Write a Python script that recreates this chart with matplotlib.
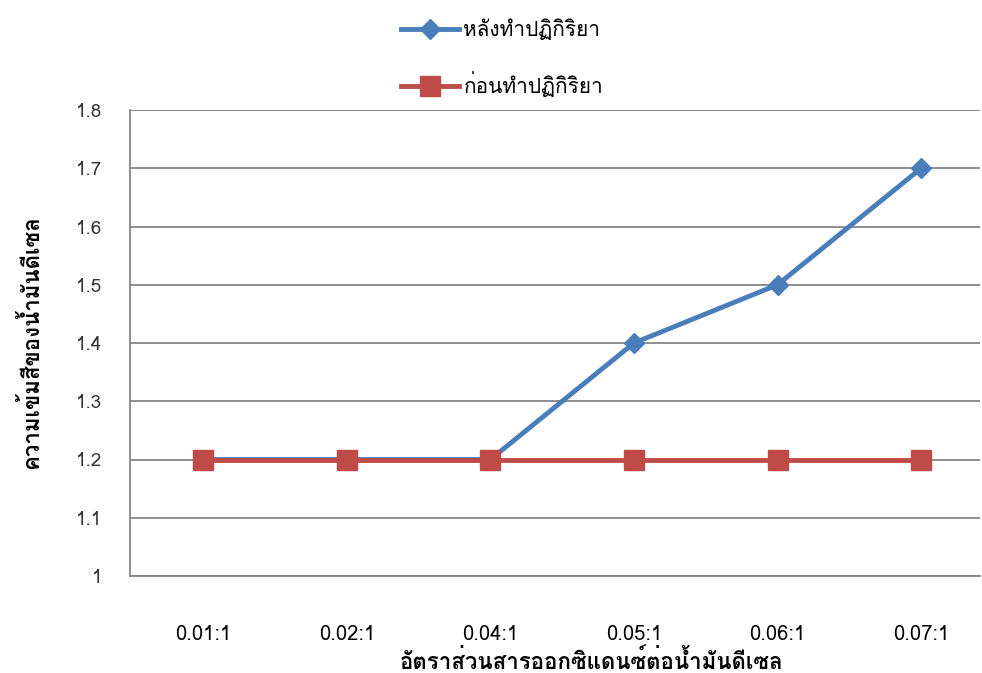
import matplotlib
matplotlib.use("Agg")
from matplotlib import pyplot as plt
from matplotlib import font_manager
from matplotlib.ft2font import FT2Font

categories = ["0.01:1", "0.02:1", "0.04:1", "0.05:1", "0.06:1", "0.07:1"]
after_reaction = [1.2, 1.2, 1.2, 1.4, 1.5, 1.7]
before_reaction = [1.2, 1.2, 1.2, 1.2, 1.2, 1.2]
y_ticks = [1, 1.1, 1.2, 1.3, 1.4, 1.5, 1.6, 1.7, 1.8]
y_tick_labels = ["1", "1.1", "1.2", "1.3", "1.4", "1.5", "1.6", "1.7", "1.8"]


def thai_font():
    # first installed family that has Thai glyphs
    for f in font_manager.fontManager.ttflist:
        try:
            if FT2Font(f.fname).get_char_index(0x0E01):
                return f.name
        except Exception:
            pass
    return "DejaVu Sans"


thai = thai_font()
plt.rcParams["font.family"] = [thai, "DejaVu Sans"]

fig = plt.figure(figsize=(9.82, 6.73), dpi=100)
ax = fig.add_axes([130 / 982, 1 - 576 / 673, 850 / 982, 466 / 673])

x = list(range(len(categories)))
ax.plot(x, after_reaction, color="#4A7EBB", lw=3.5, marker="D", ms=10.5,
        label="หลังทำปฏิกิริยา", zorder=3)
ax.plot(x, before_reaction, color="#BE4B48", lw=3.5, marker="s", ms=14.5,
        label="ก่อนทำปฏิกิริยา", zorder=4)

ax.set_xlim(-0.51, 5.41)
ax.set_ylim(1, 1.8)
ax.set_xticks(x)
ax.set_xticklabels(categories, fontsize=14.5, family=["Liberation Sans Narrow", thai])
ax.set_yticks(y_ticks)
ax.set_yticklabels(y_tick_labels, fontsize=13.5, color="#333333")
ax.tick_params(axis="x", length=0, pad=35)
ax.tick_params(axis="y", length=0, pad=20)
ax.yaxis.grid(True, color="#868686", lw=1.3)
ax.set_axisbelow(True)
for s in ["top", "right"]:
    ax.spines[s].set_visible(False)
for s in ["left", "bottom"]:
    ax.spines[s].set_color("#868686")
    ax.spines[s].set_linewidth(1.3)

fig.text(592 / 982, 1 - 661 / 673, "อัตราส่วนสารออกซิแดนซ์ต่อน้ำมันดีเซล",
         ha="center", va="center", fontsize=16, fontweight="bold")
fig.text(30 / 982, 1 - 342 / 673, "ความเข้มสีของน้ำมันดีเซล",
         ha="center", va="center", rotation=90, fontsize=16, fontweight="bold")

fig.legend(loc="upper center", bbox_to_anchor=(502 / 982, 1.0), frameon=False,
           fontsize=15, labelspacing=1.5, handlelength=2.8, handletextpad=0.2)

fig.savefig("out.png", dpi=100)
